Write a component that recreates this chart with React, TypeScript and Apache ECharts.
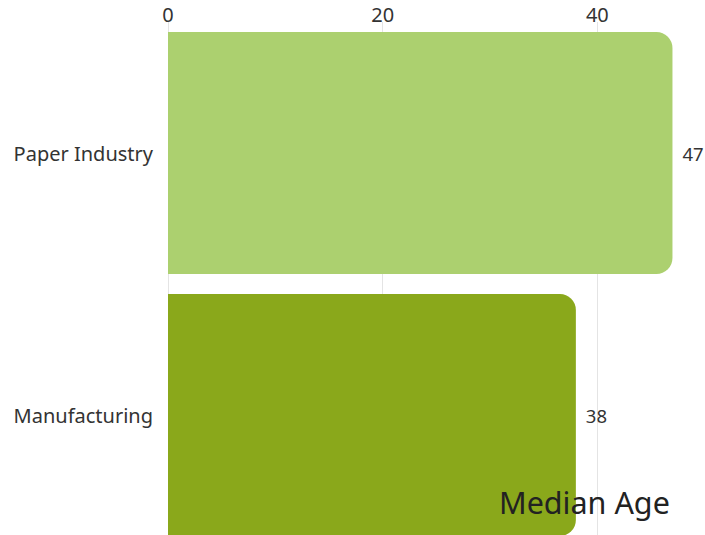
import React, { useEffect, useRef } from "react";
import * as echarts from "echarts";

const categories = ["Paper Industry", "Manufacturing"];
const values = [47, 38];
const barColors = ["#acd06f", "#8aa81b"];
const xTicks = [0, 20, 40];
const titleText = "Median Age";

export default function App() {
  const ref = useRef<HTMLDivElement>(null);
  useEffect(() => {
    if (!ref.current) return;
    const chart = echarts.init(ref.current, undefined, { renderer: "svg" });
    const font = "Noto Sans";
    chart.setOption({
      animation: false,
      backgroundColor: "#ffffff",
      title: {
        text: titleText,
        left: 494,
        top: 481,
        textStyle: { fontFamily: font, fontSize: 30.5, fontWeight: "normal", color: "#222222" },
      },
      grid: { left: 168, top: 22, right: 0, bottom: 0, containLabel: false },
      xAxis: {
        type: "value",
        position: "top",
        min: xTicks[0],
        max: 60,
        interval: 20,
        axisLine: { show: false },
        axisTick: { show: false },
        splitLine: { show: true, lineStyle: { color: "#e4e4e4", width: 1 } },
        axisLabel: {
          margin: -2,
          showMaxLabel: false,
          fontFamily: font,
          fontSize: 20,
          color: "#333333",
        },
      },
      yAxis: {
        type: "category",
        data: categories,
        inverse: true,
        axisLine: { show: false },
        axisTick: { show: false },
        axisLabel: { margin: 15, fontFamily: font, fontSize: 20, color: "#333333" },
      },
      series: [
        {
          type: "bar",
          data: values.map((v, i) => ({ value: v, itemStyle: { color: barColors[i] } })),
          barCategoryGap: "7.6%",
          itemStyle: { borderRadius: [0, 16, 16, 0] },
          label: {
            show: true,
            position: "right",
            distance: 10,
            fontFamily: font,
            fontSize: 18.5,
            color: "#333333",
          },
          z: 2,
        },
      ],
    });
    return () => chart.dispose();
  }, []);
  return (
    <div
      ref={ref}
      style={{ position: "fixed", left: 0, top: 0, width: 812, height: 546 }}
    />
  );
}
